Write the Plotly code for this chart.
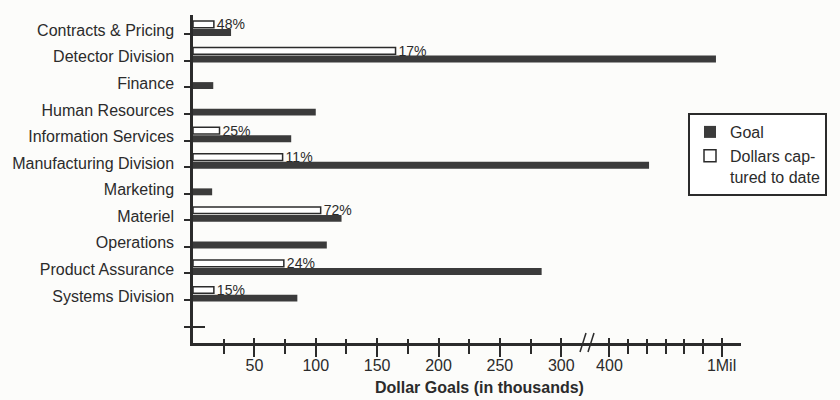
import plotly.graph_objects as go

# ---------------- data ----------------
categories = ["Contracts & Pricing", "Detector Division", "Finance", "Human Resources",
              "Information Services", "Manufacturing Division", "Marketing", "Materiel",
              "Operations", "Product Assurance", "Systems Division"]
goal = [31, 970, 16.5, 100, 80, 612, 15.6, 121, 109, 284, 85]          # thousands of $
captured = [17, 165, None, None, 21.6, 73, None, 104, None, 74, 17]   # thousands of $
pct_labels = ["48%", "17%", "", "", "25%", "11%", "", "72%", "", "24%", "15%"]

low_ticks = [50, 100, 150, 200, 250, 300]
low_tick_text = ["50", "100", "150", "200", "250", "300"]
low_minor = [25, 75, 125, 175, 225, 275]
high_ticks = [400, 1000]
high_tick_text = ["400", "1Mil"]
high_minor = [500, 600, 700, 800, 900]

# ---------------- style / geometry ----------------
W, H = 840, 400
L, R, T, B = 193, 0, 15, 57
PW, PH = W - L - R, H - T - B
BG = "#fcfcfa"
INK = "#2b2b2b"
BAR = "#3b3b3b"
FONT = "Liberation Sans, Arial, Helvetica, sans-serif"

def px_x(p):
    return (p - L) / PW

def px_y(p):
    return (H - B - p) / PH

BREAK_PX = 590
AXIS_END_PX = 741
LOW_RANGE = [0, (BREAK_PX - L) / 1.2276]
HIGH_RANGE = [296, 1104]
Y_RANGE = [11.62, -0.726]

pos = list(range(len(categories)))
slot_ticks = list(range(len(categories) + 1))
slot_text = categories + [""]

fig = go.Figure()
for xa, first in (("x", True), ("x2", False)):
    fig.add_trace(go.Bar(
        y=pos, x=goal, orientation="h", name="Goal",
        marker=dict(color=BAR, line=dict(width=0)),
        width=0.26, offset=-0.2, xaxis=xa, yaxis="y",
        showlegend=first, legendgroup="goal", hoverinfo="skip"))
    fig.add_trace(go.Bar(
        y=pos, x=captured, orientation="h", name="Dollars cap-<br>tured to date",
        marker=dict(color="white", line=dict(color=INK, width=1.5)),
        width=0.25, offset=-0.5, xaxis=xa, yaxis="y",
        text=pct_labels if first else None, textposition="outside",
        constraintext="none", cliponaxis=False,
        textfont=dict(size=14, color=INK, family=FONT),
        showlegend=first, legendgroup="cap", hoverinfo="skip"))

# empty helper traces so the overlaid tick-only axes get drawn
for xa, ya in (("x3", "y"), ("x4", "y"), ("x", "y3")):
    fig.add_trace(go.Scatter(x=[], y=[], xaxis=xa, yaxis=ya, showlegend=False,
                             hoverinfo="skip"))

common = dict(showgrid=False, zeroline=False, fixedrange=True)

fig.update_layout(
    width=W, height=H,
    margin=dict(l=L, r=R, t=T, b=B, pad=0),
    paper_bgcolor=BG, plot_bgcolor=BG,
    barmode="overlay",
    font=dict(family=FONT, color=INK, size=16),
    xaxis=dict(domain=[0, px_x(BREAK_PX)], range=LOW_RANGE, anchor="y",
               showline=True, linecolor=INK, linewidth=2.5,
               tickmode="array", tickvals=low_ticks, ticktext=low_tick_text,
               ticks="outside", ticklen=11, tickwidth=2, tickcolor=INK,
               ticklabelstandoff=-5,
               minor=dict(tickmode="array", tickvals=low_minor, ticks="outside",
                          ticklen=8, tickwidth=2, tickcolor=INK),
               tickfont=dict(size=16, color=INK), **common),
    xaxis3=dict(overlaying="x", anchor="y", range=LOW_RANGE, showline=False,
                tickmode="array", tickvals=low_ticks, ticks="inside", ticklen=5,
                tickwidth=2, tickcolor=INK, showticklabels=False,
                minor=dict(tickmode="array", tickvals=low_minor, ticks="inside",
                           ticklen=4, tickwidth=2, tickcolor=INK), **common),
    xaxis2=dict(domain=[px_x(BREAK_PX), px_x(AXIS_END_PX)], range=HIGH_RANGE, anchor="y",
                showline=True, linecolor=INK, linewidth=2.5,
                tickmode="array", tickvals=high_ticks, ticktext=high_tick_text,
                ticks="outside", ticklen=11, tickwidth=2, tickcolor=INK,
                ticklabelstandoff=-5,
                minor=dict(tickmode="array", tickvals=high_minor, ticks="outside",
                           ticklen=8, tickwidth=2, tickcolor=INK),
                tickfont=dict(size=16, color=INK), **common),
    xaxis4=dict(overlaying="x2", anchor="y", range=HIGH_RANGE, showline=False,
                tickmode="array", tickvals=high_ticks, ticks="inside", ticklen=5,
                tickwidth=2, tickcolor=INK, showticklabels=False,
                minor=dict(tickmode="array", tickvals=high_minor, ticks="inside",
                           ticklen=4, tickwidth=2, tickcolor=INK), **common),
    yaxis=dict(domain=[0, 1], range=Y_RANGE, anchor="x",
               showline=True, linecolor=INK, linewidth=2.5,
               tickmode="array", tickvals=slot_ticks, ticktext=slot_text,
               ticks="outside", ticklen=6, tickwidth=2, tickcolor=INK,
               ticklabelstandoff=7, ticklabelshift=4,
               tickfont=dict(size=16, color=INK), **common),
    yaxis3=dict(overlaying="y", anchor="x", range=Y_RANGE, showline=False,
                tickmode="array", tickvals=[slot_ticks[-1]], ticks="inside",
                ticklen=12, tickwidth=2, tickcolor=INK, showticklabels=False,
                **common),
    legend=dict(xref="paper", yref="paper", x=px_x(688), y=px_y(113),
                xanchor="left", yanchor="top", bgcolor="white",
                bordercolor=INK, borderwidth=2, valign="top",
                font=dict(size=16, color=INK, family=FONT),
                traceorder="normal", tracegroupgap=2),
    annotations=[dict(text="<b>Dollar Goals (in thousands)</b>", xref="paper", yref="paper",
                      x=px_x(479), y=px_y(387), xanchor="center", yanchor="middle",
                      showarrow=False, font=dict(size=16, color=INK, family=FONT))],
    shapes=[
        dict(type="line", xref="paper", yref="paper",
             x0=px_x(580), y0=px_y(352), x1=px_x(586), y1=px_y(333),
             line=dict(color=INK, width=1.5)),
        dict(type="line", xref="paper", yref="paper",
             x0=px_x(588), y0=px_y(352), x1=px_x(594), y1=px_y(333),
             line=dict(color=INK, width=1.5)),
    ],
)

fig.write_html("out.html")
